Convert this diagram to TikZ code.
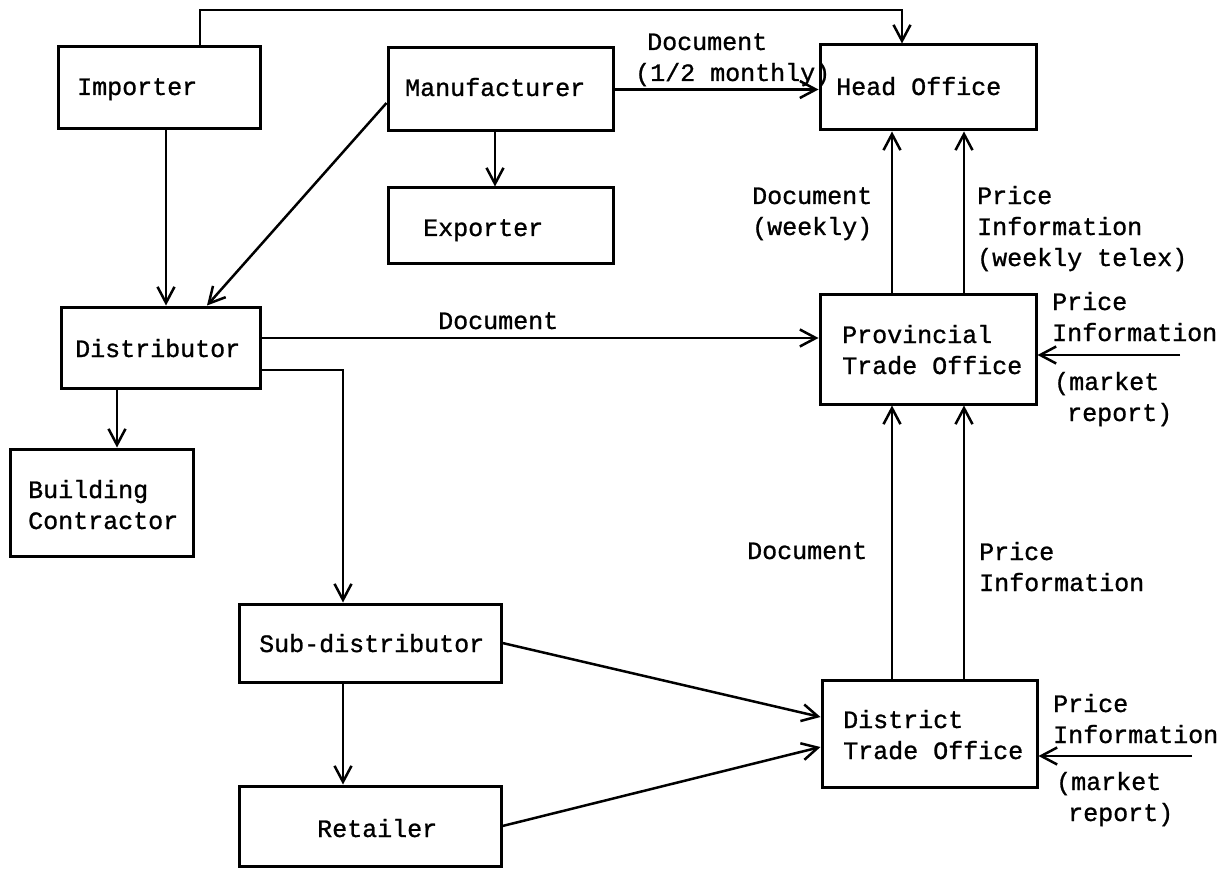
\documentclass[tikz,border=0pt]{standalone}
\usepackage{fontspec}
\newfontfamily\typewriter[FakeBold=1]{Liberation Mono}
\usetikzlibrary{arrows.meta,fit}
\begin{document}
\begin{tikzpicture}[x=1pt,y=-1pt,
  box/.style={draw,line width=3pt,inner sep=0pt},
  txt/.style={font=\typewriter\fontsize{25}{31}\selectfont,inner sep=0pt,anchor=base west,align=left},
  arr/.style={line width=2.5pt,-{Straight Barb[length=16pt,width=17pt]}}]
\useasboundingbox (0,0) rectangle (1224,869);

% boxes
\node[box,fit={(58,47)(260,129)}] (imp) {};
\node[box,fit={(388,48)(613,131)}] (man) {};
\node[box,fit={(388,188)(613,264)}] (exp) {};
\node[box,fit={(820,45)(1036,130)}] (ho) {};
\node[box,fit={(61,307)(260,388)}] (dist) {};
\node[box,fit={(10,449)(193,556)}] (bc) {};
\node[box,fit={(820,294)(1036,404)}] (prov) {};
\node[box,fit={(239,604)(501,682)}] (sub) {};
\node[box,fit={(239,786)(501,866)}] (ret) {};
\node[box,fit={(822,680)(1037,787)}] (dto) {};

% box texts (multi-line nodes sit on the baseline of their last line)
\node[txt] (timp) at (77,95) {Importer};
\node[txt] (tman) at (405,96) {Manufacturer};
\node[txt] (texp) at (423,236) {Exporter};
\node[txt] (tho) at (836,95) {Head Office};
\node[txt] (tdist) at (75,357) {Distributor};
\node[txt] (tbc) at (28,529) {Building\\Contractor};
\node[txt] (tprov) at (842,374) {Provincial\\Trade Office};
\node[txt] (tsub) at (259,652) {Sub-distributor};
\node[txt] (tret) at (317,837) {Retailer};
\node[txt] (tdto) at (843,759) {District\\Trade Office};

% connector labels
\node[txt] (lmh) at (635,81) {\hspace*{12pt}Document\\(1/2 monthly)};
\node[txt] (lph1) at (752,235) {Document\\(weekly)};
\node[txt] (lph2) at (977,266) {Price\\Information\\(weekly telex)};
\node[txt] (ldp) at (438,329) {Document};
\node[txt] (lpin) at (1052,341) {Price\\Information};
\node[txt] (lpmr) at (1054,421) {(market\\\hspace*{13pt}report)};
\node[txt] (ldd) at (747,559) {Document};
\node[txt] (ldpi) at (979,591) {Price\\Information};
\node[txt] (ldin) at (1053,743) {Price\\Information};
\node[txt] (ldmr) at (1056,821) {(market\\\hspace*{12pt}report)};

% routing points
\coordinate (tl) at (200,10);
\coordinate (tr) at (902,10);
\coordinate (xI) at (166,0);
\coordinate (xE) at (495,0);
\coordinate (xM) at (207,0);
\coordinate (yM) at (0,103);
\coordinate (xC) at (117,0);
\coordinate (yDP) at (0,338);
\coordinate (yDS) at (0,370);
\coordinate (xS) at (343,0);
\coordinate (cA) at (892,0);
\coordinate (cB) at (964,0);
\coordinate (pin) at (1180,355);
\coordinate (din) at (1192,756);

% connectors
\draw[arr] (imp.north -| tl) -- (tl) -- (tr) -- (ho.north -| tr);
\draw[arr] (man.east) -- (man.east -| ho.west);
\draw[arr] (man.south -| xE) -- (exp.north -| xE);
\draw[arr] (man.west |- yM) -- (dist.north -| xM);
\draw[arr] (imp.south -| xI) -- (dist.north -| xI);
\draw[arr] (dist.south -| xC) -- (bc.north -| xC);
\draw[arr] (dist.east |- yDP) -- (prov.west |- yDP);
\draw[arr] (dist.east |- yDS) -| (sub.north -| xS);
\draw[arr] (sub.south -| xS) -- (ret.north -| xS);
\draw[arr] (sub.east) -- ([yshift=16.5pt]dto.west);
\draw[arr] (ret.east) -- ([yshift=-13.5pt]dto.west);
\draw[arr] (prov.north -| cA) -- (ho.south -| cA);
\draw[arr] (prov.north -| cB) -- (ho.south -| cB);
\draw[arr] (dto.north -| cA) -- (prov.south -| cA);
\draw[arr] (dto.north -| cB) -- (prov.south -| cB);
\draw[arr] (pin) -- (pin -| prov.east);
\draw[arr] (din) -- (din -| dto.east);
\end{tikzpicture}
\end{document}
